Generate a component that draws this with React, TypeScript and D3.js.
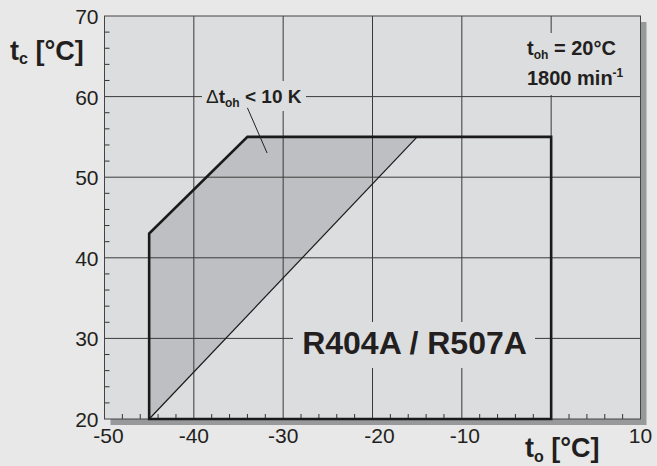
import * as d3 from 'd3';

// operating envelope (t_o, t_c)
const envelopeTo = [-45, -45, -34, 0, 0];
const envelopeTc = [20, 43, 55, 55, 20];

// shaded area: superheat limit
const shadeTo = [-45, -45, -34, -15];
const shadeTc = [20, 43, 55, 55];

const xTicks = [-50, -40, -30, -20, -10, 0, 10];
const xTickLabels = ['-50', '-40', '-30', '-20', '-10', '', '10'];
const yTicks = [20, 30, 40, 50, 60, 70];
const yTickLabels = ['20', '30', '40', '50', '60', '70'];

const W = 657;
const H = 466;
const FONT = 'Liberation Sans, Arial, Helvetica, sans-serif';

// the original labels sit a little off their ticks
const xLabelNudge: Record<string, number> = { '-50': 4, '-20': 7, '-10': 3 };

export default function App() {
  const x = d3.scaleLinear().domain([-50, 10]).range([104.5, 640.5]);
  const y = d3.scaleLinear().domain([20, 70]).range([419, 16]);

  const [x0, x1] = x.range();
  const [y0, y1] = y.range();

  const line = d3
    .line<number>()
    .x((_, i) => x(envelopeTo[i]))
    .y((_, i) => y(envelopeTc[i]));
  const shadeLine = d3
    .line<number>()
    .x((_, i) => x(shadeTo[i]))
    .y((_, i) => y(shadeTc[i]));

  const minorX = d3.range(-48, 10, 2).filter((v) => v % 10 !== 0);
  const minorY = d3.range(22, 70, 2).filter((v) => v % 10 !== 0);

  return (
    <svg
      width={W}
      height={H}
      style={{ position: 'absolute', left: 0, top: 0, fontFamily: FONT }}
    >
      <rect width={W} height={H} fill="#e7e8e7" />
      {/* drop shadow */}
      <rect x={x0 + 6} y={y1 + 6} width={x1 - x0} height={y0 - y1} fill="#98999b" />
      <rect x={x0} y={y1} width={x1 - x0} height={y0 - y1} fill="#dcdddf" />

      {/* shaded region */}
      <path d={shadeLine(shadeTo.map(() => 0)) + 'Z'} fill="#bebfc3" />

      {/* grid */}
      {xTicks.slice(1, -1).map((v) => (
        <line key={'gx' + v} x1={x(v)} x2={x(v)} y1={y0} y2={y1} stroke="#3a3a3a" strokeWidth={1} />
      ))}
      {yTicks.slice(1, -1).map((v) => (
        <line key={'gy' + v} x1={x0} x2={x1} y1={y(v)} y2={y(v)} stroke="#3a3a3a" strokeWidth={1} />
      ))}

      {/* minor ticks */}
      {minorX.map((v) => (
        <line key={'mx' + v} x1={x(v)} x2={x(v)} y1={y0} y2={y0 - 5} stroke="#333" strokeWidth={1} />
      ))}
      {minorY.map((v) => (
        <line key={'my' + v} x1={x0} x2={x0 + 5} y1={y(v)} y2={y(v)} stroke="#333" strokeWidth={1} />
      ))}

      {/* frame */}
      <rect x={x0} y={y1} width={x1 - x0} height={y0 - y1} fill="none" stroke="#444" strokeWidth={1} />

      {/* diagonal boundary of shaded region */}
      <line
        x1={x(shadeTo[0])}
        y1={y(shadeTc[0])}
        x2={x(shadeTo[3])}
        y2={y(shadeTc[3])}
        stroke="#1a1a1a"
        strokeWidth={1.2}
      />

      {/* envelope */}
      <path
        d={line(envelopeTo.map(() => 0)) + 'Z'}
        fill="none"
        stroke="#1a1a1a"
        strokeWidth={2.6}
        strokeLinejoin="miter"
      />

      {/* label boxes masking grid */}
      <rect x={202} y={81} width={104} height={30} fill="#dcdddf" />
      <rect x={293} y={322} width={242} height={46} fill="#dcdddf" />
      <rect x={522} y={33} width={100} height={62} fill="#dcdddf" />

      {/* annotation leader */}
      <line x1={x(-34)} y1={y(58.6)} x2={x(-31.8)} y2={y(53)} stroke="#222" strokeWidth={1} />

      <text x={206} y={103} fontSize={19} fill="#231f20">
        <tspan>Δ</tspan>
        <tspan fontWeight="bold">t</tspan>
        <tspan fontWeight="bold" fontSize={12} dy={4}>oh</tspan>
        <tspan fontWeight="bold" dy={-4}> &lt; 10 K</tspan>
      </text>

      <text x={527} y={55} fontSize={20} fontWeight="bold" fill="#231f20">
        <tspan>t</tspan>
        <tspan fontSize={12} dy={4}>oh</tspan>
        <tspan dy={-4}> = 20°C</tspan>
      </text>
      <text x={527} y={85} fontSize={20} fontWeight="bold" fill="#231f20">
        <tspan>1800 min</tspan>
        <tspan fontSize={12} dy={-8}>-1</tspan>
      </text>

      <text x={414.5} y={354} fontSize={32} fontWeight="bold" textAnchor="middle" fill="#231f20">
        R404A / R507A
      </text>

      {/* y tick labels */}
      {yTicks.map((v, i) => (
        <text key={'ly' + v} x={x0 - 6} y={y(v) + 8} fontSize={21} textAnchor="end" fill="#231f20">
          {yTickLabels[i]}
        </text>
      ))}
      {/* x tick labels */}
      {xTicks.map((v, i) => (
        <text
          key={'lx' + v}
          x={x(v) + (xLabelNudge[xTickLabels[i]] ?? 0)}
          y={443}
          fontSize={21}
          textAnchor="middle"
          fill="#231f20"
        >
          {xTickLabels[i]}
        </text>
      ))}

      {/* axis titles */}
      <text x={10} y={60} fontSize={27} fontWeight="bold" fill="#231f20">
        <tspan>t</tspan>
        <tspan fontSize={16} dy={4}>c</tspan>
        <tspan dy={-4}> [°C]</tspan>
      </text>
      <text x={525} y={457} fontSize={27} fontWeight="bold" fill="#231f20">
        <tspan>t</tspan>
        <tspan fontSize={16} dy={5}>o</tspan>
        <tspan dy={-5}> [°C]</tspan>
      </text>
    </svg>
  );
}
